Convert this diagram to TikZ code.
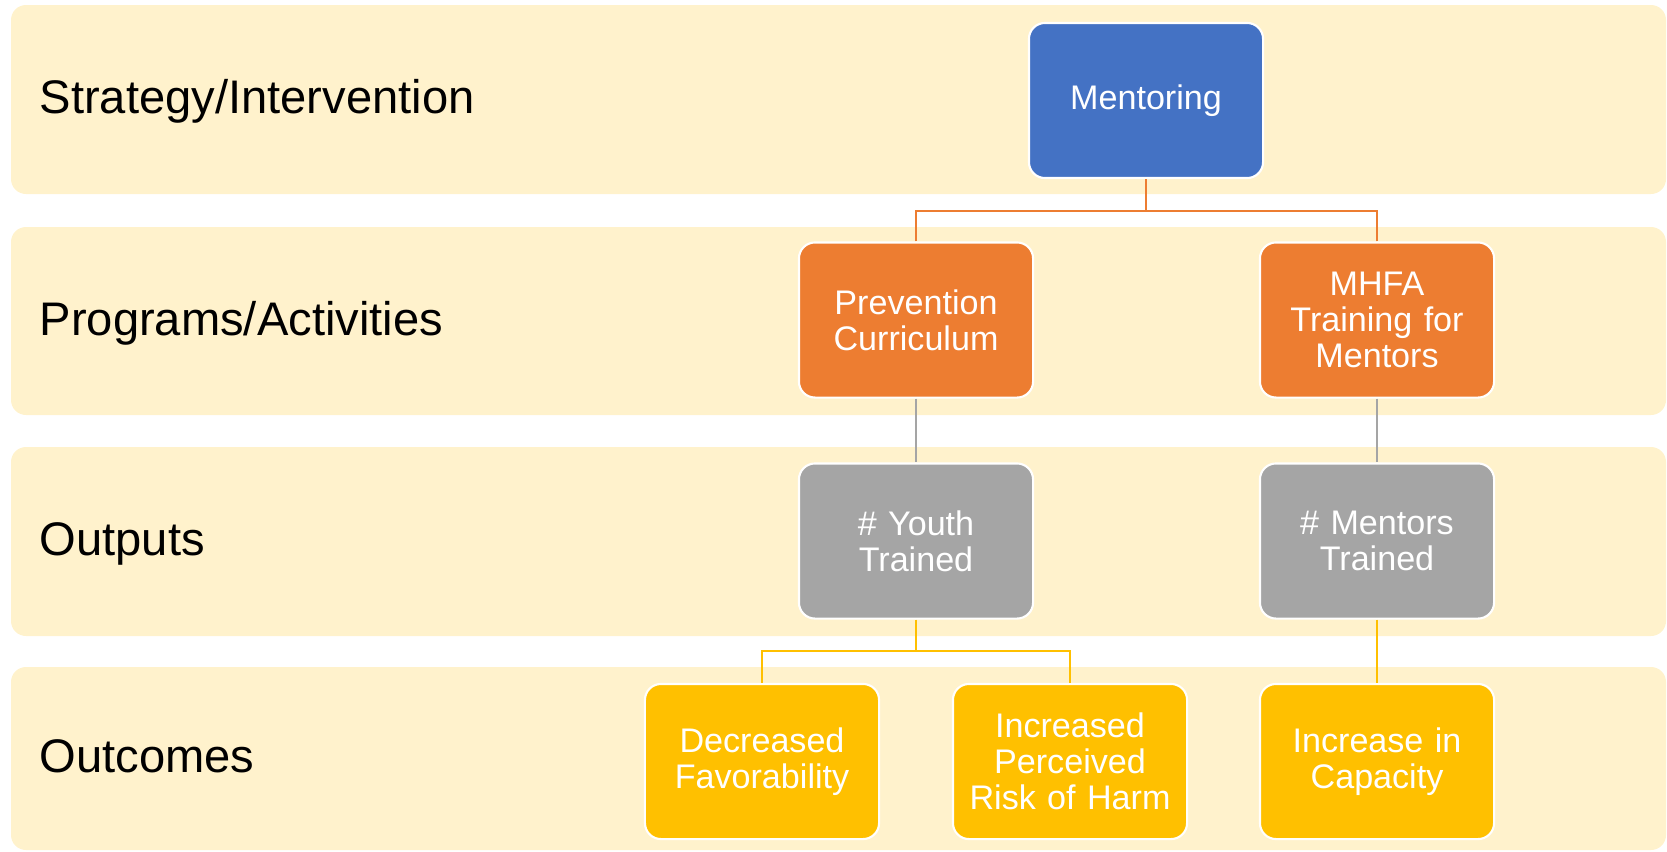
\documentclass[tikz,border=0pt]{standalone}
\usepackage{fontspec}
\setmainfont{Liberation Sans}
\definecolor{bandfill}{HTML}{FFF2CC}
\definecolor{stratblue}{HTML}{4472C4}
\definecolor{progorange}{HTML}{ED7D31}
\definecolor{outgray}{HTML}{A5A5A5}
\definecolor{outcgold}{HTML}{FFC000}
\begin{document}
\begin{tikzpicture}[x=0.01cm,y=-0.01cm,
  band/.style={fill=bandfill, rounded corners=0.15cm},
  rowlabel/.style={anchor=base west, inner sep=0pt, font=\fontsize{13.4}{16}\selectfont},
  box/.style={draw=white, line width=0.6pt, rounded corners=0.16cm,
    minimum width=2.34cm, minimum height=1.55cm, text width=2.3cm,
    align=center, inner sep=0pt, text=white, font=\fontsize{9.7}{10.2}\selectfont},
  link/.style={line width=0.75pt}]

  % Fix the page size to the reference proportions
  \useasboundingbox (0,0) rectangle (1667,851);

  % The four light yellow bands
  \fill[band] (11,5) rectangle (1666,194);
  \fill[band] (11,227) rectangle (1666,415);
  \fill[band] (11,447) rectangle (1666,636);
  \fill[band] (11,667) rectangle (1666,850);

  % Row labels on the left
  \node[rowlabel] (lstrat) at (39,113.5) {Strategy/Intervention};
  \node[rowlabel] (lprog) at (39,335) {Programs/Activities};
  \node[rowlabel] (lout) at (39,555.5) {Outputs};
  \node[rowlabel] (loutc) at (39,772.5) {Outcomes};

  % Boxes of the chart
  \node[box, fill=stratblue] (ment) at (1146,100.5) {Mentoring};
  \node[box, fill=progorange] (prev) at (916,320) {Prevention\\Curriculum};
  \node[box, fill=progorange] (mhfa) at (1377,320) {MHFA\\Training for\\Mentors};
  \node[box, fill=outgray] (youth) at (916,541) {\# Youth\\Trained};
  \node[box, fill=outgray] (mtrain) at (1377,541) {\# Mentors\\Trained};
  \node[box, fill=outcgold] (decr) at (762,761.5) {Decreased\\Favorability};
  \node[box, fill=outcgold] (incr) at (1070,761.5) {Increased\\Perceived\\Risk of Harm};
  \node[box, fill=outcgold] (capac) at (1377,761.5) {Increase in\\Capacity};

  % Junction points of the elbow connectors
  \coordinate (jment) at (1146,211);
  \coordinate (jyouth) at (916,651);

  % Strategy to programs
  \draw[link, progorange] (ment.south) -- (jment);
  \draw[link, progorange] (prev.north) |- (jment);
  \draw[link, progorange] (mhfa.north) |- (jment);

  % Programs to outputs
  \draw[link, outgray] (prev.south) -- (youth.north);
  \draw[link, outgray] (mhfa.south) -- (mtrain.north);

  % Outputs to outcomes
  \draw[link, outcgold] (youth.south) -- (jyouth);
  \draw[link, outcgold] (decr.north) |- (jyouth);
  \draw[link, outcgold] (incr.north) |- (jyouth);
  \draw[link, outcgold] (mtrain.south) -- (capac.north);

\end{tikzpicture}
\end{document}
